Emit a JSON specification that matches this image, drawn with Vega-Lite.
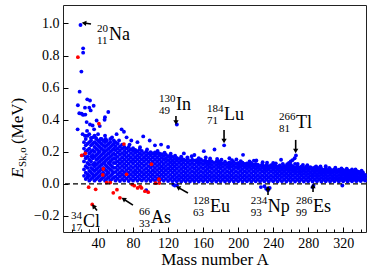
{
"$schema":"https://vega.github.io/schema/vega-lite/v6.json",
"width":303,"height":227,
"autosize":{"type":"none"},
"padding":{"left":63,"top":5,"right":8,"bottom":43},
"config":{"view":{"stroke":"#222","strokeWidth":1},"font":"Liberation Serif",
"axis":{"grid":false,"domain":false,"labelFont":"Liberation Serif","labelFontSize":14,"labelColor":"#000","tickColor":"#000","tickWidth":1,"titleFont":"Liberation Serif","titleFontSize":17,"titleFontWeight":"normal","titleColor":"#000"}},
"datasets":{
"blue":[
{"A":20,"E":0.99},{"A":23,"E":0.845},{"A":23,"E":0.818},{"A":21,"E":0.7},{"A":19,"E":0.575},{"A":17,"E":0.49},
{"A":27.7,"E":0.527},{"A":30.8,"E":0.52},{"A":25.1,"E":0.475},{"A":35,"E":0.487},{"A":18.6,"E":0.44},{"A":21.3,"E":0.437},{"A":23,"E":0.43},{"A":25.5,"E":0.432},{"A":30,"E":0.475},{"A":31.6,"E":0.458},{"A":51.7,"E":0.448},{"A":47.9,"E":0.416},{"A":47.5,"E":0.4},{"A":16.7,"E":0.34},{"A":66.9,"E":0.34},{"A":69.6,"E":0.325},{"A":27,"E":0.385},{"A":30.8,"E":0.37},{"A":33.8,"E":0.364},{"A":35.5,"E":0.34},{"A":27.5,"E":0.33},{"A":38.4,"E":0.395},{"A":42,"E":0.36},{"A":22.4,"E":0.31},{"A":25,"E":0.3},{"A":31.9,"E":0.287},{"A":37.6,"E":0.287},{"A":43,"E":0.28},{"A":48.7,"E":0.28},{"A":56,"E":0.29},{"A":61.2,"E":0.31},{"A":72.6,"E":0.29},{"A":78,"E":0.27},{"A":99,"E":0.27},{"A":91.6,"E":0.296},{"A":112,"E":0.245},
{"A":130,"E":0.37},{"A":184,"E":0.24},{"A":266,"E":0.177},
{"A":160.8,"E":0.204},{"A":173,"E":0.214},{"A":205.6,"E":0.181},{"A":220.8,"E":0.146},{"A":249,"E":0.15},{"A":264.5,"E":0.16},{"A":260,"E":0.14},{"A":258,"E":0.13},{"A":262,"E":0.148},{"A":289,"E":0.108},{"A":150,"E":0.18},{"A":138,"E":0.19},{"A":120,"E":0.23},{"A":105,"E":0.24},{"A":85,"E":0.26},{"A":300,"E":0.11},{"A":330,"E":0.09},{"A":240,"E":0.13},{"A":190,"E":0.16},
{"A":135,"E":0.17},{"A":142,"E":0.165},{"A":147,"E":0.172},{"A":155,"E":0.16},{"A":163,"E":0.165},{"A":168,"E":0.158},{"A":176,"E":0.155},{"A":181,"E":0.15},{"A":193,"E":0.148},{"A":198,"E":0.152},{"A":203,"E":0.142},{"A":213,"E":0.14},{"A":218,"E":0.145},{"A":228,"E":0.135},{"A":233,"E":0.132},{"A":243,"E":0.128},{"A":251,"E":0.125},{"A":256,"E":0.122},{"A":268,"E":0.124},{"A":274,"E":0.118},{"A":279,"E":0.116},{"A":294,"E":0.108},{"A":304,"E":0.1},{"A":311,"E":0.101},{"A":318,"E":0.097},{"A":324,"E":0.095},{"A":334,"E":0.09},{"A":341,"E":0.082},{"A":108,"E":0.205},{"A":116,"E":0.195},{"A":96,"E":0.215},{"A":88,"E":0.228},{"A":76,"E":0.245},{"A":64,"E":0.27},{"A":123,"E":0.188},{"A":128,"E":0.175},
{"A":127.7,"E":-0.01},{"A":126,"E":-0.005},{"A":130,"E":-0.008},{"A":95,"E":-0.04},{"A":226,"E":-0.02},{"A":230,"E":-0.015},{"A":232,"E":-0.03},{"A":234,"E":-0.04},{"A":236,"E":-0.025},{"A":285,"E":-0.02},{"A":286,"E":-0.012},{"A":319,"E":-0.01},
{"A":24,"E":0.05},{"A":24,"E":0.09},{"A":24,"E":0.14},{"A":24,"E":0.18},{"A":24,"E":0.22},{"A":24,"E":0.26},
{"A":26,"E":0.03},{"A":26,"E":0.07},{"A":26,"E":0.11},{"A":26,"E":0.16},{"A":26,"E":0.2},{"A":26,"E":0.24},{"A":26,"E":0.28},
{"A":28,"E":0.04},{"A":28,"E":0.06},{"A":28,"E":0.1},{"A":28,"E":0.13},{"A":28,"E":0.17},{"A":28,"E":0.21},{"A":28,"E":0.25},{"A":28,"E":0.3},
{"A":30,"E":0.02},{"A":30,"E":0.05},{"A":30,"E":0.08},{"A":30,"E":0.12},{"A":30,"E":0.15},{"A":30,"E":0.19},{"A":30,"E":0.22},{"A":30,"E":0.26},{"A":30,"E":0.31},
{"A":32,"E":0.03},{"A":32,"E":0.07},{"A":32,"E":0.1},{"A":32,"E":0.14},{"A":32,"E":0.17},{"A":32,"E":0.2},{"A":32,"E":0.24},{"A":32,"E":0.27},
{"A":34,"E":0.04},{"A":34,"E":0.06},{"A":34,"E":0.09},{"A":34,"E":0.12},{"A":34,"E":0.16},{"A":34,"E":0.18},{"A":34,"E":0.21},{"A":34,"E":0.25},{"A":34,"E":0.29},
{"A":36,"E":0.02},{"A":36,"E":0.05},{"A":36,"E":0.08},{"A":36,"E":0.11},{"A":36,"E":0.13},{"A":36,"E":0.17},{"A":36,"E":0.2},{"A":36,"E":0.23},{"A":36,"E":0.26},{"A":36,"E":0.3},
{"A":38,"E":0.03},{"A":38,"E":0.06},{"A":38,"E":0.09},{"A":38,"E":0.12},{"A":38,"E":0.15},{"A":38,"E":0.18},{"A":38,"E":0.22},{"A":38,"E":0.25},{"A":38,"E":0.28},
{"A":40,"E":0.04},{"A":40,"E":0.07},{"A":40,"E":0.1},{"A":40,"E":0.13},{"A":40,"E":0.16},{"A":40,"E":0.19},{"A":40,"E":0.21},{"A":40,"E":0.24},{"A":40,"E":0.27},{"A":40,"E":0.31},
{"A":42,"E":0.02},{"A":42,"E":0.05},{"A":42,"E":0.08},{"A":42,"E":0.11},{"A":42,"E":0.14},{"A":42,"E":0.17},{"A":42,"E":0.2},{"A":42,"E":0.23},{"A":42,"E":0.26},
{"A":44,"E":0.03},{"A":44,"E":0.06},{"A":44,"E":0.09},{"A":44,"E":0.12},{"A":44,"E":0.15},{"A":44,"E":0.18},{"A":44,"E":0.22},{"A":44,"E":0.25},{"A":44,"E":0.28},
{"A":46,"E":0.04},{"A":46,"E":0.07},{"A":46,"E":0.1},{"A":46,"E":0.13},{"A":46,"E":0.16},{"A":46,"E":0.19},{"A":46,"E":0.21},{"A":46,"E":0.24},{"A":46,"E":0.27},
{"A":48,"E":0.02},{"A":48,"E":0.05},{"A":48,"E":0.09},{"A":48,"E":0.12},{"A":48,"E":0.14},{"A":48,"E":0.17},{"A":48,"E":0.2},{"A":48,"E":0.23},{"A":48,"E":0.26},{"A":48,"E":0.3},
{"A":50,"E":0.03},{"A":50,"E":0.06},{"A":50,"E":0.08},{"A":50,"E":0.11},{"A":50,"E":0.15},{"A":50,"E":0.18},{"A":50,"E":0.21},{"A":50,"E":0.24},{"A":50,"E":0.27},
{"A":52,"E":0.04},{"A":52,"E":0.07},{"A":52,"E":0.1},{"A":52,"E":0.13},{"A":52,"E":0.16},{"A":52,"E":0.19},{"A":52,"E":0.22},{"A":52,"E":0.25},
{"A":54,"E":0.02},{"A":54,"E":0.05},{"A":54,"E":0.09},{"A":54,"E":0.12},{"A":54,"E":0.14},{"A":54,"E":0.17},{"A":54,"E":0.2},{"A":54,"E":0.23},{"A":54,"E":0.26},{"A":54,"E":0.28},
{"A":56,"E":0.03},{"A":56,"E":0.06},{"A":56,"E":0.08},{"A":56,"E":0.11},{"A":56,"E":0.15},{"A":56,"E":0.18},{"A":56,"E":0.21},{"A":56,"E":0.24},
{"A":58,"E":0.04},{"A":58,"E":0.07},{"A":58,"E":0.1},{"A":58,"E":0.13},{"A":58,"E":0.16},{"A":58,"E":0.19},{"A":58,"E":0.22},{"A":58,"E":0.25},{"A":58,"E":0.27},
{"A":60,"E":0.02},{"A":60,"E":0.045},{"A":60,"E":0.075},{"A":60,"E":0.1},{"A":60,"E":0.13},{"A":60,"E":0.155},{"A":60,"E":0.18},{"A":60,"E":0.21},{"A":60,"E":0.235},{"A":60,"E":0.26},
{"A":62.5,"E":0.032},{"A":62.5,"E":0.06},{"A":62.5,"E":0.087},{"A":62.5,"E":0.113},{"A":62.5,"E":0.14},{"A":62.5,"E":0.168},{"A":62.5,"E":0.195},{"A":62.5,"E":0.22},{"A":62.5,"E":0.25},
{"A":65,"E":0.018},{"A":65,"E":0.047},{"A":65,"E":0.072},{"A":65,"E":0.1},{"A":65,"E":0.127},{"A":65,"E":0.153},{"A":65,"E":0.182},{"A":65,"E":0.207},{"A":65,"E":0.233},
{"A":67.5,"E":0.03},{"A":67.5,"E":0.058},{"A":67.5,"E":0.085},{"A":67.5,"E":0.112},{"A":67.5,"E":0.138},{"A":67.5,"E":0.166},{"A":67.5,"E":0.192},{"A":67.5,"E":0.22},{"A":67.5,"E":0.245},
{"A":70,"E":0.02},{"A":70,"E":0.046},{"A":70,"E":0.073},{"A":70,"E":0.1},{"A":70,"E":0.125},{"A":70,"E":0.152},{"A":70,"E":0.18},{"A":70,"E":0.205},{"A":70,"E":0.23},
{"A":72.5,"E":0.033},{"A":72.5,"E":0.06},{"A":72.5,"E":0.086},{"A":72.5,"E":0.113},{"A":72.5,"E":0.14},{"A":72.5,"E":0.167},{"A":72.5,"E":0.193},{"A":72.5,"E":0.22},
{"A":75,"E":0.018},{"A":75,"E":0.045},{"A":75,"E":0.072},{"A":75,"E":0.098},{"A":75,"E":0.126},{"A":75,"E":0.153},{"A":75,"E":0.178},{"A":75,"E":0.206},{"A":75,"E":0.23},
{"A":77.5,"E":0.031},{"A":77.5,"E":0.058},{"A":77.5,"E":0.086},{"A":77.5,"E":0.111},{"A":77.5,"E":0.139},{"A":77.5,"E":0.165},{"A":77.5,"E":0.192},{"A":77.5,"E":0.215},
{"A":80,"E":0.02},{"A":80,"E":0.046},{"A":80,"E":0.073},{"A":80,"E":0.1},{"A":80,"E":0.127},{"A":80,"E":0.152},{"A":80,"E":0.18},{"A":80,"E":0.205},{"A":80,"E":0.222},
{"A":82.5,"E":0.032},{"A":82.5,"E":0.06},{"A":82.5,"E":0.085},{"A":82.5,"E":0.112},{"A":82.5,"E":0.14},{"A":82.5,"E":0.166},{"A":82.5,"E":0.193},{"A":82.5,"E":0.212},
{"A":85,"E":0.019},{"A":85,"E":0.045},{"A":85,"E":0.072},{"A":85,"E":0.099},{"A":85,"E":0.125},{"A":85,"E":0.152},{"A":85,"E":0.178},{"A":85,"E":0.203},
{"A":87.5,"E":0.03},{"A":87.5,"E":0.057},{"A":87.5,"E":0.085},{"A":87.5,"E":0.112},{"A":87.5,"E":0.138},{"A":87.5,"E":0.165},{"A":87.5,"E":0.19},{"A":87.5,"E":0.214},
{"A":90,"E":0.021},{"A":90,"E":0.047},{"A":90,"E":0.073},{"A":90,"E":0.1},{"A":90,"E":0.126},{"A":90,"E":0.153},{"A":90,"E":0.18},{"A":90,"E":0.205},
{"A":92.5,"E":0.033},{"A":92.5,"E":0.06},{"A":92.5,"E":0.086},{"A":92.5,"E":0.113},{"A":92.5,"E":0.14},{"A":92.5,"E":0.166},{"A":92.5,"E":0.192},
{"A":95,"E":0.019},{"A":95,"E":0.045},{"A":95,"E":0.072},{"A":95,"E":0.098},{"A":95,"E":0.125},{"A":95,"E":0.152},{"A":95,"E":0.178},{"A":95,"E":0.2},
{"A":97.5,"E":0.031},{"A":97.5,"E":0.058},{"A":97.5,"E":0.084},{"A":97.5,"E":0.111},{"A":97.5,"E":0.138},{"A":97.5,"E":0.164},{"A":97.5,"E":0.19},
{"A":100,"E":0.018},{"A":100,"E":0.046},{"A":100,"E":0.072},{"A":100,"E":0.1},{"A":100,"E":0.126},{"A":100,"E":0.152},{"A":100,"E":0.178},{"A":100,"E":0.198},
{"A":102.5,"E":0.03},{"A":102.5,"E":0.057},{"A":102.5,"E":0.085},{"A":102.5,"E":0.112},{"A":102.5,"E":0.139},{"A":102.5,"E":0.165},{"A":102.5,"E":0.19},
{"A":105,"E":0.02},{"A":105,"E":0.045},{"A":105,"E":0.073},{"A":105,"E":0.099},{"A":105,"E":0.125},{"A":105,"E":0.151},{"A":105,"E":0.177},{"A":105,"E":0.196},
{"A":107.5,"E":0.032},{"A":107.5,"E":0.058},{"A":107.5,"E":0.086},{"A":107.5,"E":0.112},{"A":107.5,"E":0.138},{"A":107.5,"E":0.163},{"A":107.5,"E":0.188},
{"A":110,"E":0.018},{"A":110,"E":0.046},{"A":110,"E":0.072},{"A":110,"E":0.098},{"A":110,"E":0.124},{"A":110,"E":0.15},{"A":110,"E":0.176},{"A":110,"E":0.19},
{"A":112.5,"E":0.03},{"A":112.5,"E":0.057},{"A":112.5,"E":0.084},{"A":112.5,"E":0.11},{"A":112.5,"E":0.137},{"A":112.5,"E":0.162},{"A":112.5,"E":0.185},
{"A":115,"E":0.019},{"A":115,"E":0.045},{"A":115,"E":0.071},{"A":115,"E":0.098},{"A":115,"E":0.124},{"A":115,"E":0.15},{"A":115,"E":0.174},
{"A":117.5,"E":0.031},{"A":117.5,"E":0.058},{"A":117.5,"E":0.085},{"A":117.5,"E":0.111},{"A":117.5,"E":0.136},{"A":117.5,"E":0.16},{"A":117.5,"E":0.182},
{"A":120,"E":0.018},{"A":120,"E":0.044},{"A":120,"E":0.07},{"A":120,"E":0.097},{"A":120,"E":0.123},{"A":120,"E":0.148},{"A":120,"E":0.172},
{"A":122.5,"E":0.03},{"A":122.5,"E":0.056},{"A":122.5,"E":0.083},{"A":122.5,"E":0.109},{"A":122.5,"E":0.135},{"A":122.5,"E":0.158},{"A":122.5,"E":0.178},
{"A":125,"E":0.017},{"A":125,"E":0.043},{"A":125,"E":0.07},{"A":125,"E":0.096},{"A":125,"E":0.122},{"A":125,"E":0.146},{"A":125,"E":0.168},
{"A":127.5,"E":0.029},{"A":127.5,"E":0.055},{"A":127.5,"E":0.082},{"A":127.5,"E":0.108},{"A":127.5,"E":0.133},{"A":127.5,"E":0.156},
{"A":130,"E":0.016},{"A":130,"E":0.042},{"A":130,"E":0.068},{"A":130,"E":0.094},{"A":130,"E":0.12},{"A":130,"E":0.145},{"A":130,"E":0.162},
{"A":132.5,"E":0.028},{"A":132.5,"E":0.054},{"A":132.5,"E":0.08},{"A":132.5,"E":0.106},{"A":132.5,"E":0.132},{"A":132.5,"E":0.155},
{"A":135,"E":0.015},{"A":135,"E":0.041},{"A":135,"E":0.067},{"A":135,"E":0.093},{"A":135,"E":0.119},{"A":135,"E":0.144},{"A":135,"E":0.158},
{"A":137.5,"E":0.027},{"A":137.5,"E":0.053},{"A":137.5,"E":0.079},{"A":137.5,"E":0.105},{"A":137.5,"E":0.131},{"A":137.5,"E":0.152},
{"A":140,"E":0.016},{"A":140,"E":0.042},{"A":140,"E":0.068},{"A":140,"E":0.094},{"A":140,"E":0.12},{"A":140,"E":0.146},
{"A":142.5,"E":0.028},{"A":142.5,"E":0.054},{"A":142.5,"E":0.08},{"A":142.5,"E":0.106},{"A":142.5,"E":0.132},{"A":142.5,"E":0.155},
{"A":145,"E":0.015},{"A":145,"E":0.041},{"A":145,"E":0.067},{"A":145,"E":0.093},{"A":145,"E":0.119},{"A":145,"E":0.143},
{"A":147.5,"E":0.027},{"A":147.5,"E":0.053},{"A":147.5,"E":0.079},{"A":147.5,"E":0.105},{"A":147.5,"E":0.13},{"A":147.5,"E":0.15},
{"A":150,"E":0.016},{"A":150,"E":0.042},{"A":150,"E":0.068},{"A":150,"E":0.094},{"A":150,"E":0.12},{"A":150,"E":0.145},
{"A":152.5,"E":0.028},{"A":152.5,"E":0.054},{"A":152.5,"E":0.08},{"A":152.5,"E":0.106},{"A":152.5,"E":0.131},{"A":152.5,"E":0.148},
{"A":155,"E":0.015},{"A":155,"E":0.041},{"A":155,"E":0.067},{"A":155,"E":0.093},{"A":155,"E":0.119},{"A":155,"E":0.14},
{"A":157.5,"E":0.027},{"A":157.5,"E":0.053},{"A":157.5,"E":0.079},{"A":157.5,"E":0.105},{"A":157.5,"E":0.13},{"A":157.5,"E":0.152},
{"A":160,"E":0.016},{"A":160,"E":0.042},{"A":160,"E":0.068},{"A":160,"E":0.094},{"A":160,"E":0.12},{"A":160,"E":0.142},
{"A":162.5,"E":0.028},{"A":162.5,"E":0.054},{"A":162.5,"E":0.08},{"A":162.5,"E":0.106},{"A":162.5,"E":0.13},{"A":162.5,"E":0.146},
{"A":165,"E":0.015},{"A":165,"E":0.041},{"A":165,"E":0.067},{"A":165,"E":0.093},{"A":165,"E":0.118},{"A":165,"E":0.138},
{"A":167.5,"E":0.027},{"A":167.5,"E":0.053},{"A":167.5,"E":0.079},{"A":167.5,"E":0.105},{"A":167.5,"E":0.128},{"A":167.5,"E":0.145},
{"A":170,"E":0.016},{"A":170,"E":0.042},{"A":170,"E":0.068},{"A":170,"E":0.094},{"A":170,"E":0.118},{"A":170,"E":0.14},
{"A":172.5,"E":0.028},{"A":172.5,"E":0.054},{"A":172.5,"E":0.08},{"A":172.5,"E":0.106},{"A":172.5,"E":0.13},
{"A":175,"E":0.015},{"A":175,"E":0.041},{"A":175,"E":0.067},{"A":175,"E":0.093},{"A":175,"E":0.117},{"A":175,"E":0.138},
{"A":177.5,"E":0.027},{"A":177.5,"E":0.053},{"A":177.5,"E":0.079},{"A":177.5,"E":0.105},{"A":177.5,"E":0.128},{"A":177.5,"E":0.142},
{"A":180,"E":0.016},{"A":180,"E":0.042},{"A":180,"E":0.068},{"A":180,"E":0.094},{"A":180,"E":0.118},{"A":180,"E":0.135},
{"A":182.5,"E":0.028},{"A":182.5,"E":0.054},{"A":182.5,"E":0.08},{"A":182.5,"E":0.106},{"A":182.5,"E":0.128},
{"A":185,"E":0.015},{"A":185,"E":0.041},{"A":185,"E":0.067},{"A":185,"E":0.093},{"A":185,"E":0.117},{"A":185,"E":0.138},
{"A":187.5,"E":0.027},{"A":187.5,"E":0.053},{"A":187.5,"E":0.079},{"A":187.5,"E":0.105},{"A":187.5,"E":0.127},
{"A":190,"E":0.016},{"A":190,"E":0.042},{"A":190,"E":0.068},{"A":190,"E":0.094},{"A":190,"E":0.116},{"A":190,"E":0.134},
{"A":192.5,"E":0.028},{"A":192.5,"E":0.054},{"A":192.5,"E":0.08},{"A":192.5,"E":0.106},{"A":192.5,"E":0.128},
{"A":195,"E":0.015},{"A":195,"E":0.041},{"A":195,"E":0.067},{"A":195,"E":0.093},{"A":195,"E":0.115},{"A":195,"E":0.136},
{"A":197.5,"E":0.027},{"A":197.5,"E":0.053},{"A":197.5,"E":0.079},{"A":197.5,"E":0.104},{"A":197.5,"E":0.126},
{"A":200,"E":0.016},{"A":200,"E":0.042},{"A":200,"E":0.068},{"A":200,"E":0.094},{"A":200,"E":0.116},{"A":200,"E":0.13},
{"A":202.5,"E":0.028},{"A":202.5,"E":0.054},{"A":202.5,"E":0.08},{"A":202.5,"E":0.105},{"A":202.5,"E":0.125},
{"A":205,"E":0.015},{"A":205,"E":0.041},{"A":205,"E":0.067},{"A":205,"E":0.092},{"A":205,"E":0.114},{"A":205,"E":0.132},
{"A":207.5,"E":0.027},{"A":207.5,"E":0.053},{"A":207.5,"E":0.079},{"A":207.5,"E":0.104},{"A":207.5,"E":0.124},
{"A":210,"E":0.016},{"A":210,"E":0.042},{"A":210,"E":0.068},{"A":210,"E":0.093},{"A":210,"E":0.114},{"A":210,"E":0.128},
{"A":212.5,"E":0.028},{"A":212.5,"E":0.054},{"A":212.5,"E":0.08},{"A":212.5,"E":0.104},{"A":212.5,"E":0.122},
{"A":215,"E":0.015},{"A":215,"E":0.041},{"A":215,"E":0.067},{"A":215,"E":0.092},{"A":215,"E":0.113},{"A":215,"E":0.13},
{"A":217.5,"E":0.027},{"A":217.5,"E":0.053},{"A":217.5,"E":0.079},{"A":217.5,"E":0.103},{"A":217.5,"E":0.121},
{"A":220,"E":0.016},{"A":220,"E":0.042},{"A":220,"E":0.068},{"A":220,"E":0.092},{"A":220,"E":0.112},{"A":220,"E":0.125},
{"A":222.5,"E":0.028},{"A":222.5,"E":0.054},{"A":222.5,"E":0.08},{"A":222.5,"E":0.103},{"A":222.5,"E":0.12},
{"A":225,"E":0.015},{"A":225,"E":0.041},{"A":225,"E":0.067},{"A":225,"E":0.091},{"A":225,"E":0.112},
{"A":227.5,"E":0.027},{"A":227.5,"E":0.053},{"A":227.5,"E":0.079},{"A":227.5,"E":0.102},{"A":227.5,"E":0.122},
{"A":230,"E":0.016},{"A":230,"E":0.042},{"A":230,"E":0.068},{"A":230,"E":0.091},{"A":230,"E":0.11},
{"A":232.5,"E":0.028},{"A":232.5,"E":0.054},{"A":232.5,"E":0.08},{"A":232.5,"E":0.102},{"A":232.5,"E":0.118},
{"A":235,"E":0.015},{"A":235,"E":0.041},{"A":235,"E":0.067},{"A":235,"E":0.09},{"A":235,"E":0.11},
{"A":237.5,"E":0.027},{"A":237.5,"E":0.053},{"A":237.5,"E":0.078},{"A":237.5,"E":0.1},{"A":237.5,"E":0.116},
{"A":240,"E":0.016},{"A":240,"E":0.042},{"A":240,"E":0.067},{"A":240,"E":0.09},{"A":240,"E":0.108},{"A":240,"E":0.122},
{"A":242.5,"E":0.028},{"A":242.5,"E":0.054},{"A":242.5,"E":0.079},{"A":242.5,"E":0.1},{"A":242.5,"E":0.114},
{"A":245,"E":0.015},{"A":245,"E":0.041},{"A":245,"E":0.066},{"A":245,"E":0.089},{"A":245,"E":0.107},
{"A":247.5,"E":0.027},{"A":247.5,"E":0.053},{"A":247.5,"E":0.078},{"A":247.5,"E":0.099},{"A":247.5,"E":0.115},
{"A":250,"E":0.016},{"A":250,"E":0.042},{"A":250,"E":0.066},{"A":250,"E":0.088},{"A":250,"E":0.106},
{"A":252.5,"E":0.028},{"A":252.5,"E":0.054},{"A":252.5,"E":0.077},{"A":252.5,"E":0.098},{"A":252.5,"E":0.112},
{"A":255,"E":0.015},{"A":255,"E":0.041},{"A":255,"E":0.065},{"A":255,"E":0.087},{"A":255,"E":0.105},
{"A":257.5,"E":0.027},{"A":257.5,"E":0.052},{"A":257.5,"E":0.076},{"A":257.5,"E":0.097},{"A":257.5,"E":0.112},
{"A":260,"E":0.016},{"A":260,"E":0.041},{"A":260,"E":0.065},{"A":260,"E":0.086},{"A":260,"E":0.104},{"A":260,"E":0.12},
{"A":262.5,"E":0.028},{"A":262.5,"E":0.053},{"A":262.5,"E":0.076},{"A":262.5,"E":0.096},{"A":262.5,"E":0.11},
{"A":265,"E":0.015},{"A":265,"E":0.04},{"A":265,"E":0.064},{"A":265,"E":0.085},{"A":265,"E":0.103},{"A":265,"E":0.125},
{"A":267.5,"E":0.027},{"A":267.5,"E":0.052},{"A":267.5,"E":0.075},{"A":267.5,"E":0.095},{"A":267.5,"E":0.11},
{"A":270,"E":0.016},{"A":270,"E":0.04},{"A":270,"E":0.063},{"A":270,"E":0.084},{"A":270,"E":0.102},
{"A":272.5,"E":0.028},{"A":272.5,"E":0.052},{"A":272.5,"E":0.074},{"A":272.5,"E":0.094},{"A":272.5,"E":0.108},
{"A":275,"E":0.015},{"A":275,"E":0.039},{"A":275,"E":0.062},{"A":275,"E":0.083},{"A":275,"E":0.1},
{"A":277.5,"E":0.027},{"A":277.5,"E":0.051},{"A":277.5,"E":0.073},{"A":277.5,"E":0.093},{"A":277.5,"E":0.106},
{"A":280,"E":0.016},{"A":280,"E":0.039},{"A":280,"E":0.061},{"A":280,"E":0.082},{"A":280,"E":0.099},
{"A":282.5,"E":0.028},{"A":282.5,"E":0.05},{"A":282.5,"E":0.072},{"A":282.5,"E":0.092},{"A":282.5,"E":0.104},
{"A":285,"E":0.015},{"A":285,"E":0.038},{"A":285,"E":0.06},{"A":285,"E":0.081},{"A":285,"E":0.098},
{"A":287.5,"E":0.027},{"A":287.5,"E":0.05},{"A":287.5,"E":0.071},{"A":287.5,"E":0.09},{"A":287.5,"E":0.102},
{"A":290,"E":0.016},{"A":290,"E":0.038},{"A":290,"E":0.06},{"A":290,"E":0.08},{"A":290,"E":0.096},
{"A":292.5,"E":0.028},{"A":292.5,"E":0.049},{"A":292.5,"E":0.07},{"A":292.5,"E":0.089},{"A":292.5,"E":0.1},
{"A":295,"E":0.015},{"A":295,"E":0.037},{"A":295,"E":0.059},{"A":295,"E":0.079},{"A":295,"E":0.095},
{"A":297.5,"E":0.027},{"A":297.5,"E":0.049},{"A":297.5,"E":0.07},{"A":297.5,"E":0.088},
{"A":300,"E":0.016},{"A":300,"E":0.037},{"A":300,"E":0.058},{"A":300,"E":0.078},{"A":300,"E":0.094},
{"A":302.5,"E":0.028},{"A":302.5,"E":0.048},{"A":302.5,"E":0.069},{"A":302.5,"E":0.087},
{"A":305,"E":0.015},{"A":305,"E":0.036},{"A":305,"E":0.057},{"A":305,"E":0.077},{"A":305,"E":0.092},
{"A":307.5,"E":0.026},{"A":307.5,"E":0.047},{"A":307.5,"E":0.068},{"A":307.5,"E":0.086},
{"A":310,"E":0.016},{"A":310,"E":0.036},{"A":310,"E":0.056},{"A":310,"E":0.076},{"A":310,"E":0.09},
{"A":312.5,"E":0.027},{"A":312.5,"E":0.047},{"A":312.5,"E":0.067},{"A":312.5,"E":0.085},
{"A":315,"E":0.015},{"A":315,"E":0.035},{"A":315,"E":0.055},{"A":315,"E":0.075},{"A":315,"E":0.088},
{"A":317.5,"E":0.026},{"A":317.5,"E":0.046},{"A":317.5,"E":0.066},{"A":317.5,"E":0.083},
{"A":320,"E":0.016},{"A":320,"E":0.035},{"A":320,"E":0.055},{"A":320,"E":0.074},{"A":320,"E":0.087},
{"A":322.5,"E":0.027},{"A":322.5,"E":0.046},{"A":322.5,"E":0.065},{"A":322.5,"E":0.082},
{"A":325,"E":0.015},{"A":325,"E":0.034},{"A":325,"E":0.054},{"A":325,"E":0.072},{"A":325,"E":0.085},
{"A":327.5,"E":0.026},{"A":327.5,"E":0.045},{"A":327.5,"E":0.064},{"A":327.5,"E":0.08},
{"A":330,"E":0.016},{"A":330,"E":0.034},{"A":330,"E":0.053},{"A":330,"E":0.071},{"A":330,"E":0.083},
{"A":332.5,"E":0.027},{"A":332.5,"E":0.045},{"A":332.5,"E":0.063},{"A":332.5,"E":0.078},
{"A":335,"E":0.017},{"A":335,"E":0.035},{"A":335,"E":0.052},{"A":335,"E":0.07},{"A":335,"E":0.08},
{"A":337.5,"E":0.027},{"A":337.5,"E":0.044},{"A":337.5,"E":0.062},{"A":337.5,"E":0.076},
{"A":340,"E":0.018},{"A":340,"E":0.035},{"A":340,"E":0.052},{"A":340,"E":0.068},
{"A":342.5,"E":0.028},{"A":342.5,"E":0.045},{"A":342.5,"E":0.06},{"A":342.5,"E":0.072},
{"A":345,"E":0.02},{"A":345,"E":0.038},{"A":345,"E":0.055}
],
"red":[
{"A":17,"E":0.79},{"A":41,"E":0.375},{"A":21.3,"E":0.177},{"A":25.4,"E":0.19},{"A":69.6,"E":0.248},{"A":45.4,"E":0.056},{"A":49.8,"E":0.008},{"A":53.9,"E":0.008},{"A":72.6,"E":0.06},{"A":101,"E":0.123},{"A":109.5,"E":0.029},{"A":105.7,"E":0.004},{"A":29.3,"E":-0.021},{"A":37.3,"E":-0.034},{"A":61.6,"E":-0.036},{"A":57.4,"E":-0.056},{"A":65,"E":-0.087},{"A":33.4,"E":-0.128},{"A":79,"E":-0.004},{"A":81.4,"E":-0.011},{"A":85.2,"E":-0.025},{"A":88.1,"E":-0.015},{"A":89.7,"E":-0.025},{"A":93.5,"E":-0.046},{"A":97.3,"E":-0.052},{"A":46,"E":0.094},{"A":110,"E":0.005}
],
"arrows":[
{"A":31.97,"E":0.997,"A2":23.98,"E2":1.003},
{"A":129,"E":0.423,"A2":129,"E2":0.383},
{"A":183.9,"E":0.336,"A2":183.9,"E2":0.267},
{"A":265.7,"E":0.274,"A2":265.7,"E2":0.205},
{"A":142.7,"E":-0.057,"A2":131.3,"E2":-0.022},
{"A":234.1,"E":-0.069,"A2":234.1,"E2":-0.026},
{"A":285.5,"E":-0.05,"A2":285.5,"E2":-0.013},
{"A":79.9,"E":-0.132,"A2":69.1,"E2":-0.094},
{"A":38.8,"E":-0.166,"A2":34.8,"E2":-0.138}
],
"labels":[
{"A":38.8,"E":0.897,"m":"20","z":"11","s":"Na"},
{"A":109.6,"E":0.461,"m":"130","z":"49","s":"In"},
{"A":164.4,"E":0.398,"m":"184","z":"71","s":"Lu"},
{"A":246.7,"E":0.349,"m":"266","z":"81","s":"Tl"},
{"A":148.5,"E":-0.173,"m":"128","z":"63","s":"Eu"},
{"A":214.3,"E":-0.173,"m":"234","z":"93","s":"Np"},
{"A":266.1,"E":-0.173,"m":"286","z":"99","s":"Es"},
{"A":86.8,"E":-0.244,"m":"66","z":"33","s":"As"},
{"A":9.1,"E":-0.267,"m":"34","z":"17","s":"Cl"}
]
},
"layer":[
{"data":{"name":"blue"},"mark":{"type":"point","filled":true,"size":15,"opacity":1,"color":"#0000ff","strokeWidth":0},
"encoding":{
"x":{"field":"A","type":"quantitative","scale":{"domain":[0,346],"nice":false,"zero":false},
"axis":{"orient":"bottom","values":[40,80,120,160,200,240,280,320],"tickSize":-5,"labelPadding":9,"title":"Mass number A","titlePadding":1}},
"y":{"field":"E","type":"quantitative","scale":{"domain":[-0.3,1.115],"nice":false,"zero":false},
"axis":{"orient":"left","values":[-0.2,0,0.2,0.4,0.6,0.8,1.0],"format":".1f","tickSize":-5,"labelPadding":9,"title":null}}}},
{"data":{"values":[{"A":0}]},"mark":{"type":"point","opacity":0},
"encoding":{"x":{"field":"A","type":"quantitative","scale":{"domain":[0,346],"nice":false,"zero":false},
"axis":{"orient":"bottom","values":[10,20,30,50,60,70,90,100,110,130,140,150,170,180,190,210,220,230,250,260,270,290,300,310,330,340],"labels":false,"tickSize":-3,"title":null}}}},
{"data":{"name":"red"},"mark":{"type":"point","filled":true,"size":14,"opacity":1,"color":"#ff0000","strokeWidth":0},
"encoding":{"x":{"field":"A","type":"quantitative","scale":{"domain":[0,346],"nice":false,"zero":false},"axis":null},
"y":{"field":"E","type":"quantitative","scale":{"domain":[-0.3,1.115],"nice":false,"zero":false},"axis":null}}},
{"data":{"values":[{"E":0}]},"mark":{"type":"rule","color":"#000","strokeWidth":1.3,"strokeDash":[5,3]},
"encoding":{"y":{"field":"E","type":"quantitative","scale":{"domain":[-0.3,1.115],"nice":false,"zero":false},"axis":null}}},
{"data":{"name":"arrows"},"mark":{"type":"rule","color":"#000","strokeWidth":1.6},
"encoding":{"x":{"field":"A","type":"quantitative","scale":{"domain":[0,346],"nice":false,"zero":false},"axis":null},
"y":{"field":"E","type":"quantitative","scale":{"domain":[-0.3,1.115],"nice":false,"zero":false},"axis":null},
"x2":{"field":"A2"},"y2":{"field":"E2"}}},
{"data":{"name":"arrows"},"transform":[{"calculate":"atan2((datum.A2-datum.A)*0.8757,(datum.E2-datum.E)*160.4)*180/PI","as":"ang"}],
"mark":{"type":"point","shape":"triangle-up","filled":true,"size":28,"color":"#000","opacity":1,"strokeWidth":0},
"encoding":{"x":{"field":"A2","type":"quantitative","scale":{"domain":[0,346],"nice":false,"zero":false},"axis":null},
"y":{"field":"E2","type":"quantitative","scale":{"domain":[-0.3,1.115],"nice":false,"zero":false},"axis":null},
"angle":{"field":"ang","type":"quantitative","scale":null}}},
{"data":{"name":"labels"},"mark":{"type":"text","font":"Liberation Serif","fontSize":11,"align":"left","baseline":"alphabetic","dy":-8,"color":"#000"},
"encoding":{"x":{"field":"A","type":"quantitative","scale":{"domain":[0,346],"nice":false,"zero":false},"axis":null},
"y":{"field":"E","type":"quantitative","scale":{"domain":[-0.3,1.115],"nice":false,"zero":false},"axis":null},
"text":{"field":"m"}}},
{"data":{"name":"labels"},"mark":{"type":"text","font":"Liberation Serif","fontSize":11,"align":"left","baseline":"alphabetic","dy":4,"color":"#000"},
"encoding":{"x":{"field":"A","type":"quantitative","scale":{"domain":[0,346],"nice":false,"zero":false},"axis":null},
"y":{"field":"E","type":"quantitative","scale":{"domain":[-0.3,1.115],"nice":false,"zero":false},"axis":null},
"text":{"field":"z"}}},
{"data":{"name":"labels"},"transform":[{"filter":"length(datum.m) == 3"}],"mark":{"type":"text","font":"Liberation Serif","fontSize":18,"align":"left","baseline":"alphabetic","dx":17,"color":"#000"},
"encoding":{"x":{"field":"A","type":"quantitative","scale":{"domain":[0,346],"nice":false,"zero":false},"axis":null},
"y":{"field":"E","type":"quantitative","scale":{"domain":[-0.3,1.115],"nice":false,"zero":false},"axis":null},
"text":{"field":"s"}}},
{"data":{"name":"labels"},"transform":[{"filter":"length(datum.m) == 2"}],"mark":{"type":"text","font":"Liberation Serif","fontSize":18,"align":"left","baseline":"alphabetic","dx":12,"color":"#000"},
"encoding":{"x":{"field":"A","type":"quantitative","scale":{"domain":[0,346],"nice":false,"zero":false},"axis":null},
"y":{"field":"E","type":"quantitative","scale":{"domain":[-0.3,1.115],"nice":false,"zero":false},"axis":null},
"text":{"field":"s"}}},
{"data":{"values":[{"A":-46,"E":0.037,"t":"E"}]},"mark":{"type":"text","font":"Liberation Serif","fontSize":17,"fontStyle":"italic","align":"left","baseline":"alphabetic","angle":270,"color":"#000"},
"encoding":{"x":{"field":"A","type":"quantitative","scale":{"domain":[0,346],"nice":false,"zero":false},"axis":null},
"y":{"field":"E","type":"quantitative","scale":{"domain":[-0.3,1.115],"nice":false,"zero":false},"axis":null},
"text":{"field":"t"}}},
{"data":{"values":[{"A":-42.6,"E":0.105,"t":"Sk,o"}]},"mark":{"type":"text","font":"Liberation Serif","fontSize":11,"align":"left","baseline":"alphabetic","angle":270,"color":"#000"},
"encoding":{"x":{"field":"A","type":"quantitative","scale":{"domain":[0,346],"nice":false,"zero":false},"axis":null},
"y":{"field":"E","type":"quantitative","scale":{"domain":[-0.3,1.115],"nice":false,"zero":false},"axis":null},
"text":{"field":"t"}}},
{"data":{"values":[{"A":-46,"E":0.248,"t":"(MeV)"}]},"mark":{"type":"text","font":"Liberation Serif","fontSize":17,"align":"left","baseline":"alphabetic","angle":270,"color":"#000"},
"encoding":{"x":{"field":"A","type":"quantitative","scale":{"domain":[0,346],"nice":false,"zero":false},"axis":null},
"y":{"field":"E","type":"quantitative","scale":{"domain":[-0.3,1.115],"nice":false,"zero":false},"axis":null},
"text":{"field":"t"}}}
],
"resolve":{"axis":{"x":"independent","y":"independent"}}
}
